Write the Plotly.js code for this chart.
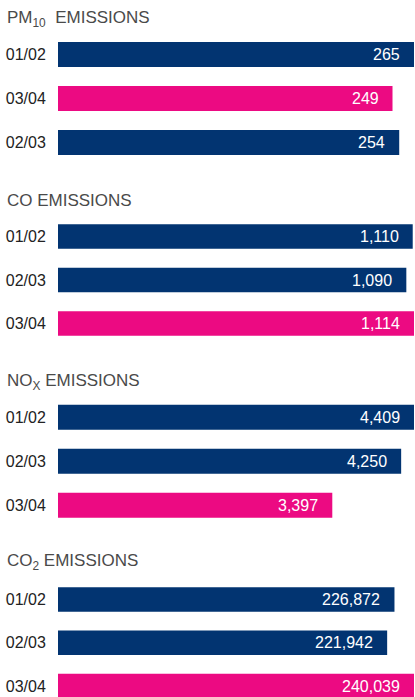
<!DOCTYPE html>
<html>
<head>
<meta charset="utf-8">
<script src="https://cdn.plot.ly/plotly-3.0.1.min.js"></script>
<style>html,body{margin:0;padding:0;background:#fff;}#chart{width:415px;height:697px;}</style>
</head>
<body>
<div id="chart"></div>
<script>
// ---- data ----
const pmCategories = ['01/02', '03/04', '02/03'];
const pmValues = [265, 249, 254];
const coCategories = ['01/02', '02/03', '03/04'];
const coValues = [1110, 1090, 1114];
const noxCategories = ['01/02', '02/03', '03/04'];
const noxValues = [4409, 4250, 3397];
const co2Categories = ['01/02', '02/03', '03/04'];
const co2Values = [226872, 221942, 240039];
const panelTitles = ['PM<sub>10</sub>  EMISSIONS', 'CO EMISSIONS', 'NO<sub>X</sub> EMISSIONS', 'CO<sub>2</sub> EMISSIONS'];
const highlightCategory = '03/04';

// ---- style ----
const W = 415, H = 697;
const NAVY = '#023471', PINK = '#ec0a82';
const FONT = 'Liberation Sans, Arial, Helvetica, sans-serif';
const panels = [
  {cats: pmCategories, vals: pmValues, top: 32.5, bottom: 164.5, rng: [2.5, -0.5], titleY: 19},
  {cats: coCategories, vals: coValues, top: 214.75, bottom: 345.25, rng: [2.5, -0.5], titleY: 201},
  {cats: noxCategories, vals: noxValues, top: 395.3, bottom: 527.3, rng: [2.5, -0.5], titleY: 382},
  {cats: co2Categories, vals: co2Values, top: 577.9, bottom: 697, rng: [2.254, -0.5], titleY: 562}
];

const traces = [];
const layout = {
  width: W, height: H,
  margin: {l: 0, r: 0, t: 0, b: 0},
  paper_bgcolor: '#fff', plot_bgcolor: 'rgba(0,0,0,0)',
  showlegend: false,
  bargap: 1 - 25 / 44,
  font: {family: FONT},
  annotations: []
};

panels.forEach((p, i) => {
  const n = i === 0 ? '' : String(i + 1);
  const xa = 'x' + n, ya = 'y' + n;
  traces.push({
    type: 'bar', orientation: 'h',
    x: p.vals, y: p.cats,
    xaxis: xa, yaxis: ya,
    marker: {color: p.cats.map(c => c === highlightCategory ? PINK : NAVY)},
    hoverinfo: 'none'
  });
  const maxV = Math.max(...p.vals);
  layout['xaxis' + n] = {
    domain: [58 / W, 414 / W], range: [0, maxV], anchor: ya,
    showgrid: false, zeroline: false, showticklabels: false, showline: false, fixedrange: true
  };
  layout['yaxis' + n] = {
    domain: [1 - p.bottom / H, 1 - p.top / H], anchor: xa,
    type: 'category', range: p.rng,
    showgrid: false, zeroline: false, showline: false,
    ticks: 'outside', ticklen: 8, tickcolor: 'rgba(0,0,0,0)',
    tickfont: {family: FONT, size: 16, color: '#222'}, fixedrange: true
  };
  p.vals.forEach((v, j) => {
    layout.annotations.push({
      xref: xa, yref: ya, x: v, y: p.cats[j],
      text: v.toLocaleString('en-US'), showarrow: false,
      xanchor: 'right', xshift: -12,
      font: {family: FONT, size: 16, color: '#fff'}
    });
  });
  layout.annotations.push({
    xref: 'paper', yref: 'paper', x: 5 / W, y: 1 - p.titleY / H,
    xanchor: 'left', yanchor: 'middle',
    text: panelTitles[i], showarrow: false,
    font: {family: FONT, size: 17, color: '#4a4a4a'}
  });
});

Plotly.newPlot('chart', traces, layout, {displayModeBar: false, staticPlot: true});
</script>
</body>
</html>
